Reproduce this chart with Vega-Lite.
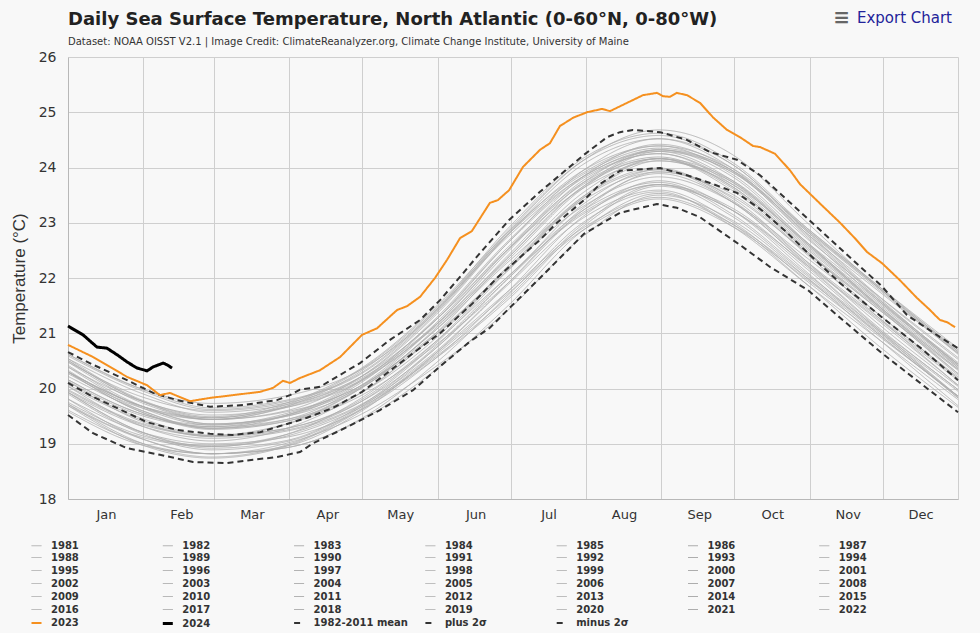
{
"$schema": "https://vega.github.io/schema/vega-lite/v6.json",
"width": 890,
"height": 442,
"autosize": "none",
"padding": {"left": 68, "top": 57, "right": 22, "bottom": 134},
"background": "#f8f8f8",
"config": {
  "view": {"stroke": null},
  "font": "DejaVu Sans",
  "legend": {"orient": "none", "legendX": -38, "legendY": 482, "direction": "horizontal", "columns": 7, "symbolLimit": 100, "symbolType": "stroke", "symbolSize": 100, "labelFont": "DejaVu Sans", "labelFontSize": 10, "labelFontWeight": "bold", "labelColor": "#333333", "labelOffset": 8, "columnPadding": 10.3, "rowPadding": -0.6, "gridAlign": "all", "labelLimit": 200, "symbolOpacity": 1}
},
"title": {"text": "Daily Sea Surface Temperature, North Atlantic (0-60°N, 0-80°W)", "subtitle": "Dataset: NOAA OISST V2.1 | Image Credit: ClimateReanalyzer.org, Climate Change Institute, University of Maine", "anchor": "start", "frame": "group", "font": "DejaVu Sans", "fontSize": 18, "fontWeight": "bold", "color": "#222222", "subtitleFont": "DejaVu Sans", "subtitleFontSize": 10, "subtitleColor": "#333333", "subtitlePadding": 8, "offset": -39},
"datasets": {
"years": [
{"s":"1981","d":0,"t":19.81},{"s":"1981","d":31,"t":19.20},{"s":"1981","d":59,"t":19.00},{"s":"1981","d":90,"t":19.12},{"s":"1981","d":120,"t":19.60},{"s":"1981","d":151,"t":20.54},{"s":"1981","d":181,"t":21.76},{"s":"1981","d":212,"t":23.12},{"s":"1981","d":243,"t":23.76},{"s":"1981","d":273,"t":23.23},{"s":"1981","d":304,"t":22.10},{"s":"1981","d":334,"t":20.96},{"s":"1981","d":366,"t":19.86},
{"s":"1982","d":0,"t":19.69},{"s":"1982","d":31,"t":18.97},{"s":"1982","d":59,"t":18.74},{"s":"1982","d":90,"t":18.96},{"s":"1982","d":120,"t":19.60},{"s":"1982","d":151,"t":20.60},{"s":"1982","d":181,"t":21.72},{"s":"1982","d":212,"t":22.87},{"s":"1982","d":243,"t":23.43},{"s":"1982","d":273,"t":22.94},{"s":"1982","d":304,"t":21.97},{"s":"1982","d":334,"t":20.96},{"s":"1982","d":366,"t":19.83},
{"s":"1983","d":0,"t":19.90},{"s":"1983","d":31,"t":19.17},{"s":"1983","d":59,"t":18.89},{"s":"1983","d":90,"t":19.04},{"s":"1983","d":120,"t":19.65},{"s":"1983","d":151,"t":20.72},{"s":"1983","d":181,"t":21.99},{"s":"1983","d":212,"t":23.19},{"s":"1983","d":243,"t":23.69},{"s":"1983","d":273,"t":23.12},{"s":"1983","d":304,"t":22.04},{"s":"1983","d":334,"t":21.02},{"s":"1983","d":366,"t":19.95},
{"s":"1984","d":0,"t":19.58},{"s":"1984","d":31,"t":18.97},{"s":"1984","d":59,"t":18.82},{"s":"1984","d":90,"t":19.01},{"s":"1984","d":120,"t":19.52},{"s":"1984","d":151,"t":20.39},{"s":"1984","d":181,"t":21.42},{"s":"1984","d":212,"t":22.76},{"s":"1984","d":243,"t":23.50},{"s":"1984","d":273,"t":23.05},{"s":"1984","d":304,"t":22.00},{"s":"1984","d":334,"t":20.87},{"s":"1984","d":366,"t":19.69},
{"s":"1985","d":0,"t":19.69},{"s":"1985","d":31,"t":19.08},{"s":"1985","d":59,"t":18.82},{"s":"1985","d":90,"t":18.93},{"s":"1985","d":120,"t":19.44},{"s":"1985","d":151,"t":20.45},{"s":"1985","d":181,"t":21.69},{"s":"1985","d":212,"t":23.01},{"s":"1985","d":243,"t":23.56},{"s":"1985","d":273,"t":22.94},{"s":"1985","d":304,"t":21.88},{"s":"1985","d":334,"t":20.87},{"s":"1985","d":366,"t":19.80},
{"s":"1986","d":0,"t":19.61},{"s":"1986","d":31,"t":19.00},{"s":"1986","d":59,"t":18.82},{"s":"1986","d":90,"t":18.93},{"s":"1986","d":120,"t":19.42},{"s":"1986","d":151,"t":20.33},{"s":"1986","d":181,"t":21.50},{"s":"1986","d":212,"t":22.87},{"s":"1986","d":243,"t":23.53},{"s":"1986","d":273,"t":22.98},{"s":"1986","d":304,"t":21.88},{"s":"1986","d":334,"t":20.75},{"s":"1986","d":366,"t":19.66},
{"s":"1987","d":0,"t":19.93},{"s":"1987","d":31,"t":19.20},{"s":"1987","d":59,"t":18.95},{"s":"1987","d":90,"t":19.17},{"s":"1987","d":120,"t":19.81},{"s":"1987","d":151,"t":20.84},{"s":"1987","d":181,"t":22.03},{"s":"1987","d":212,"t":23.16},{"s":"1987","d":243,"t":23.69},{"s":"1987","d":273,"t":23.23},{"s":"1987","d":304,"t":22.23},{"s":"1987","d":334,"t":21.20},{"s":"1987","d":366,"t":20.06},
{"s":"1988","d":0,"t":19.93},{"s":"1988","d":31,"t":19.20},{"s":"1988","d":59,"t":18.92},{"s":"1988","d":90,"t":19.06},{"s":"1988","d":120,"t":19.68},{"s":"1988","d":151,"t":20.75},{"s":"1988","d":181,"t":22.03},{"s":"1988","d":212,"t":23.23},{"s":"1988","d":243,"t":23.73},{"s":"1988","d":273,"t":23.16},{"s":"1988","d":304,"t":22.07},{"s":"1988","d":334,"t":21.05},{"s":"1988","d":366,"t":19.98},
{"s":"1989","d":0,"t":19.72},{"s":"1989","d":31,"t":19.11},{"s":"1989","d":59,"t":18.95},{"s":"1989","d":90,"t":19.14},{"s":"1989","d":120,"t":19.65},{"s":"1989","d":151,"t":20.54},{"s":"1989","d":181,"t":21.61},{"s":"1989","d":212,"t":22.94},{"s":"1989","d":243,"t":23.66},{"s":"1989","d":273,"t":23.23},{"s":"1989","d":304,"t":22.16},{"s":"1989","d":334,"t":21.02},{"s":"1989","d":366,"t":19.83},
{"s":"1990","d":0,"t":20.04},{"s":"1990","d":31,"t":19.42},{"s":"1990","d":59,"t":19.13},{"s":"1990","d":90,"t":19.25},{"s":"1990","d":120,"t":19.75},{"s":"1990","d":151,"t":20.81},{"s":"1990","d":181,"t":22.14},{"s":"1990","d":212,"t":23.45},{"s":"1990","d":243,"t":23.96},{"s":"1990","d":273,"t":23.38},{"s":"1990","d":304,"t":22.26},{"s":"1990","d":334,"t":21.23},{"s":"1990","d":366,"t":20.15},
{"s":"1991","d":0,"t":19.93},{"s":"1991","d":31,"t":19.31},{"s":"1991","d":59,"t":19.10},{"s":"1991","d":90,"t":19.23},{"s":"1991","d":120,"t":19.70},{"s":"1991","d":151,"t":20.66},{"s":"1991","d":181,"t":21.91},{"s":"1991","d":212,"t":23.27},{"s":"1991","d":243,"t":23.89},{"s":"1991","d":273,"t":23.38},{"s":"1991","d":304,"t":22.23},{"s":"1991","d":334,"t":21.08},{"s":"1991","d":366,"t":19.98},
{"s":"1992","d":0,"t":19.72},{"s":"1992","d":31,"t":19.00},{"s":"1992","d":59,"t":18.76},{"s":"1992","d":90,"t":18.98},{"s":"1992","d":120,"t":19.62},{"s":"1992","d":151,"t":20.63},{"s":"1992","d":181,"t":21.76},{"s":"1992","d":212,"t":22.91},{"s":"1992","d":243,"t":23.46},{"s":"1992","d":273,"t":22.98},{"s":"1992","d":304,"t":22.00},{"s":"1992","d":334,"t":20.99},{"s":"1992","d":366,"t":19.86},
{"s":"1993","d":0,"t":19.81},{"s":"1993","d":31,"t":19.08},{"s":"1993","d":59,"t":18.82},{"s":"1993","d":90,"t":18.96},{"s":"1993","d":120,"t":19.57},{"s":"1993","d":151,"t":20.63},{"s":"1993","d":181,"t":21.88},{"s":"1993","d":212,"t":23.09},{"s":"1993","d":243,"t":23.59},{"s":"1993","d":273,"t":23.02},{"s":"1993","d":304,"t":21.94},{"s":"1993","d":334,"t":20.93},{"s":"1993","d":366,"t":19.86},
{"s":"1994","d":0,"t":19.75},{"s":"1994","d":31,"t":19.14},{"s":"1994","d":59,"t":18.97},{"s":"1994","d":90,"t":19.17},{"s":"1994","d":120,"t":19.68},{"s":"1994","d":151,"t":20.57},{"s":"1994","d":181,"t":21.65},{"s":"1994","d":212,"t":22.98},{"s":"1994","d":243,"t":23.69},{"s":"1994","d":273,"t":23.27},{"s":"1994","d":304,"t":22.20},{"s":"1994","d":334,"t":21.05},{"s":"1994","d":366,"t":19.86},
{"s":"1995","d":0,"t":20.22},{"s":"1995","d":31,"t":19.59},{"s":"1995","d":59,"t":19.28},{"s":"1995","d":90,"t":19.41},{"s":"1995","d":120,"t":19.91},{"s":"1995","d":151,"t":20.99},{"s":"1995","d":181,"t":22.37},{"s":"1995","d":212,"t":23.66},{"s":"1995","d":243,"t":24.16},{"s":"1995","d":273,"t":23.59},{"s":"1995","d":304,"t":22.45},{"s":"1995","d":334,"t":21.41},{"s":"1995","d":366,"t":20.33},
{"s":"1996","d":0,"t":19.98},{"s":"1996","d":31,"t":19.36},{"s":"1996","d":59,"t":19.15},{"s":"1996","d":90,"t":19.28},{"s":"1996","d":120,"t":19.75},{"s":"1996","d":151,"t":20.72},{"s":"1996","d":181,"t":21.99},{"s":"1996","d":212,"t":23.34},{"s":"1996","d":243,"t":23.96},{"s":"1996","d":273,"t":23.45},{"s":"1996","d":304,"t":22.29},{"s":"1996","d":334,"t":21.14},{"s":"1996","d":366,"t":20.04},
{"s":"1997","d":0,"t":20.04},{"s":"1997","d":31,"t":19.31},{"s":"1997","d":59,"t":19.05},{"s":"1997","d":90,"t":19.28},{"s":"1997","d":120,"t":19.91},{"s":"1997","d":151,"t":20.96},{"s":"1997","d":181,"t":22.18},{"s":"1997","d":212,"t":23.30},{"s":"1997","d":243,"t":23.83},{"s":"1997","d":273,"t":23.38},{"s":"1997","d":304,"t":22.36},{"s":"1997","d":334,"t":21.32},{"s":"1997","d":366,"t":20.18},
{"s":"1998","d":0,"t":20.39},{"s":"1998","d":31,"t":19.64},{"s":"1998","d":59,"t":19.34},{"s":"1998","d":90,"t":19.50},{"s":"1998","d":120,"t":20.09},{"s":"1998","d":151,"t":21.23},{"s":"1998","d":181,"t":22.64},{"s":"1998","d":212,"t":23.81},{"s":"1998","d":243,"t":24.25},{"s":"1998","d":273,"t":23.74},{"s":"1998","d":304,"t":22.58},{"s":"1998","d":334,"t":21.53},{"s":"1998","d":366,"t":20.44},
{"s":"1999","d":0,"t":20.13},{"s":"1999","d":31,"t":19.50},{"s":"1999","d":59,"t":19.31},{"s":"1999","d":90,"t":19.52},{"s":"1999","d":120,"t":20.01},{"s":"1999","d":151,"t":20.96},{"s":"1999","d":181,"t":22.14},{"s":"1999","d":212,"t":23.45},{"s":"1999","d":243,"t":24.12},{"s":"1999","d":273,"t":23.74},{"s":"1999","d":304,"t":22.61},{"s":"1999","d":334,"t":21.44},{"s":"1999","d":366,"t":20.24},
{"s":"2000","d":0,"t":20.07},{"s":"2000","d":31,"t":19.45},{"s":"2000","d":59,"t":19.15},{"s":"2000","d":90,"t":19.28},{"s":"2000","d":120,"t":19.78},{"s":"2000","d":151,"t":20.84},{"s":"2000","d":181,"t":22.18},{"s":"2000","d":212,"t":23.48},{"s":"2000","d":243,"t":23.99},{"s":"2000","d":273,"t":23.41},{"s":"2000","d":304,"t":22.29},{"s":"2000","d":334,"t":21.26},{"s":"2000","d":366,"t":20.18},
{"s":"2001","d":0,"t":20.16},{"s":"2001","d":31,"t":19.53},{"s":"2001","d":59,"t":19.31},{"s":"2001","d":90,"t":19.44},{"s":"2001","d":120,"t":19.91},{"s":"2001","d":151,"t":20.90},{"s":"2001","d":181,"t":22.22},{"s":"2001","d":212,"t":23.55},{"s":"2001","d":243,"t":24.16},{"s":"2001","d":273,"t":23.66},{"s":"2001","d":304,"t":22.48},{"s":"2001","d":334,"t":21.32},{"s":"2001","d":366,"t":20.21},
{"s":"2002","d":0,"t":20.13},{"s":"2002","d":31,"t":19.39},{"s":"2002","d":59,"t":19.13},{"s":"2002","d":90,"t":19.36},{"s":"2002","d":120,"t":19.99},{"s":"2002","d":151,"t":21.05},{"s":"2002","d":181,"t":22.29},{"s":"2002","d":212,"t":23.41},{"s":"2002","d":243,"t":23.92},{"s":"2002","d":273,"t":23.48},{"s":"2002","d":304,"t":22.45},{"s":"2002","d":334,"t":21.41},{"s":"2002","d":366,"t":20.27},
{"s":"2003","d":0,"t":20.42},{"s":"2003","d":31,"t":19.67},{"s":"2003","d":59,"t":19.36},{"s":"2003","d":90,"t":19.52},{"s":"2003","d":120,"t":20.12},{"s":"2003","d":151,"t":21.26},{"s":"2003","d":181,"t":22.67},{"s":"2003","d":212,"t":23.84},{"s":"2003","d":243,"t":24.29},{"s":"2003","d":273,"t":23.77},{"s":"2003","d":304,"t":22.61},{"s":"2003","d":334,"t":21.56},{"s":"2003","d":366,"t":20.47},
{"s":"2004","d":0,"t":20.27},{"s":"2004","d":31,"t":19.64},{"s":"2004","d":59,"t":19.44},{"s":"2004","d":90,"t":19.66},{"s":"2004","d":120,"t":20.14},{"s":"2004","d":151,"t":21.11},{"s":"2004","d":181,"t":22.33},{"s":"2004","d":212,"t":23.63},{"s":"2004","d":243,"t":24.29},{"s":"2004","d":273,"t":23.92},{"s":"2004","d":304,"t":22.77},{"s":"2004","d":334,"t":21.59},{"s":"2004","d":366,"t":20.38},
{"s":"2005","d":0,"t":20.54},{"s":"2005","d":31,"t":19.90},{"s":"2005","d":59,"t":19.57},{"s":"2005","d":90,"t":19.71},{"s":"2005","d":120,"t":20.20},{"s":"2005","d":151,"t":21.32},{"s":"2005","d":181,"t":22.79},{"s":"2005","d":212,"t":24.06},{"s":"2005","d":243,"t":24.52},{"s":"2005","d":273,"t":23.99},{"s":"2005","d":304,"t":22.80},{"s":"2005","d":334,"t":21.74},{"s":"2005","d":366,"t":20.64},
{"s":"2006","d":0,"t":20.39},{"s":"2006","d":31,"t":19.76},{"s":"2006","d":59,"t":19.52},{"s":"2006","d":90,"t":19.66},{"s":"2006","d":120,"t":20.12},{"s":"2006","d":151,"t":21.14},{"s":"2006","d":181,"t":22.52},{"s":"2006","d":212,"t":23.84},{"s":"2006","d":243,"t":24.42},{"s":"2006","d":273,"t":23.95},{"s":"2006","d":304,"t":22.74},{"s":"2006","d":334,"t":21.56},{"s":"2006","d":366,"t":20.44},
{"s":"2007","d":0,"t":20.30},{"s":"2007","d":31,"t":19.56},{"s":"2007","d":59,"t":19.28},{"s":"2007","d":90,"t":19.52},{"s":"2007","d":120,"t":20.14},{"s":"2007","d":151,"t":21.23},{"s":"2007","d":181,"t":22.52},{"s":"2007","d":212,"t":23.63},{"s":"2007","d":243,"t":24.12},{"s":"2007","d":273,"t":23.70},{"s":"2007","d":304,"t":22.64},{"s":"2007","d":334,"t":21.59},{"s":"2007","d":366,"t":20.44},
{"s":"2008","d":0,"t":20.30},{"s":"2008","d":31,"t":19.56},{"s":"2008","d":59,"t":19.26},{"s":"2008","d":90,"t":19.41},{"s":"2008","d":120,"t":20.01},{"s":"2008","d":151,"t":21.14},{"s":"2008","d":181,"t":22.52},{"s":"2008","d":212,"t":23.70},{"s":"2008","d":243,"t":24.16},{"s":"2008","d":273,"t":23.63},{"s":"2008","d":304,"t":22.48},{"s":"2008","d":334,"t":21.44},{"s":"2008","d":366,"t":20.35},
{"s":"2009","d":0,"t":19.96},{"s":"2009","d":31,"t":19.34},{"s":"2009","d":59,"t":19.15},{"s":"2009","d":90,"t":19.36},{"s":"2009","d":120,"t":19.86},{"s":"2009","d":151,"t":20.78},{"s":"2009","d":181,"t":21.91},{"s":"2009","d":212,"t":23.23},{"s":"2009","d":243,"t":23.92},{"s":"2009","d":273,"t":23.52},{"s":"2009","d":304,"t":22.42},{"s":"2009","d":334,"t":21.26},{"s":"2009","d":366,"t":20.06},
{"s":"2010","d":0,"t":20.59},{"s":"2010","d":31,"t":19.95},{"s":"2010","d":59,"t":19.62},{"s":"2010","d":90,"t":19.77},{"s":"2010","d":120,"t":20.25},{"s":"2010","d":151,"t":21.38},{"s":"2010","d":181,"t":22.86},{"s":"2010","d":212,"t":24.13},{"s":"2010","d":243,"t":24.58},{"s":"2010","d":273,"t":24.06},{"s":"2010","d":304,"t":22.87},{"s":"2010","d":334,"t":21.80},{"s":"2010","d":366,"t":20.70},
{"s":"2011","d":0,"t":20.30},{"s":"2011","d":31,"t":19.67},{"s":"2011","d":59,"t":19.44},{"s":"2011","d":90,"t":19.58},{"s":"2011","d":120,"t":20.04},{"s":"2011","d":151,"t":21.05},{"s":"2011","d":181,"t":22.41},{"s":"2011","d":212,"t":23.73},{"s":"2011","d":243,"t":24.32},{"s":"2011","d":273,"t":23.84},{"s":"2011","d":304,"t":22.64},{"s":"2011","d":334,"t":21.47},{"s":"2011","d":366,"t":20.35},
{"s":"2012","d":0,"t":20.48},{"s":"2012","d":31,"t":19.73},{"s":"2012","d":59,"t":19.44},{"s":"2012","d":90,"t":19.68},{"s":"2012","d":120,"t":20.30},{"s":"2012","d":151,"t":21.41},{"s":"2012","d":181,"t":22.75},{"s":"2012","d":212,"t":23.84},{"s":"2012","d":243,"t":24.32},{"s":"2012","d":273,"t":23.92},{"s":"2012","d":304,"t":22.84},{"s":"2012","d":334,"t":21.77},{"s":"2012","d":366,"t":20.62},
{"s":"2013","d":0,"t":20.33},{"s":"2013","d":31,"t":19.59},{"s":"2013","d":59,"t":19.28},{"s":"2013","d":90,"t":19.44},{"s":"2013","d":120,"t":20.04},{"s":"2013","d":151,"t":21.17},{"s":"2013","d":181,"t":22.56},{"s":"2013","d":212,"t":23.73},{"s":"2013","d":243,"t":24.19},{"s":"2013","d":273,"t":23.66},{"s":"2013","d":304,"t":22.52},{"s":"2013","d":334,"t":21.47},{"s":"2013","d":366,"t":20.38},
{"s":"2014","d":0,"t":20.30},{"s":"2014","d":31,"t":19.67},{"s":"2014","d":59,"t":19.47},{"s":"2014","d":90,"t":19.68},{"s":"2014","d":120,"t":20.17},{"s":"2014","d":151,"t":21.14},{"s":"2014","d":181,"t":22.37},{"s":"2014","d":212,"t":23.66},{"s":"2014","d":243,"t":24.32},{"s":"2014","d":273,"t":23.95},{"s":"2014","d":304,"t":22.80},{"s":"2014","d":334,"t":21.62},{"s":"2014","d":366,"t":20.41},
{"s":"2015","d":0,"t":20.30},{"s":"2015","d":31,"t":19.67},{"s":"2015","d":59,"t":19.36},{"s":"2015","d":90,"t":19.50},{"s":"2015","d":120,"t":19.99},{"s":"2015","d":151,"t":21.08},{"s":"2015","d":181,"t":22.48},{"s":"2015","d":212,"t":23.77},{"s":"2015","d":243,"t":24.25},{"s":"2015","d":273,"t":23.70},{"s":"2015","d":304,"t":22.55},{"s":"2015","d":334,"t":21.50},{"s":"2015","d":366,"t":20.41},
{"s":"2016","d":0,"t":20.48},{"s":"2016","d":31,"t":19.84},{"s":"2016","d":59,"t":19.60},{"s":"2016","d":90,"t":19.74},{"s":"2016","d":120,"t":20.20},{"s":"2016","d":151,"t":21.23},{"s":"2016","d":181,"t":22.64},{"s":"2016","d":212,"t":23.95},{"s":"2016","d":243,"t":24.52},{"s":"2016","d":273,"t":24.06},{"s":"2016","d":304,"t":22.84},{"s":"2016","d":334,"t":21.65},{"s":"2016","d":366,"t":20.53},
{"s":"2017","d":0,"t":20.51},{"s":"2017","d":31,"t":19.76},{"s":"2017","d":59,"t":19.47},{"s":"2017","d":90,"t":19.71},{"s":"2017","d":120,"t":20.33},{"s":"2017","d":151,"t":21.44},{"s":"2017","d":181,"t":22.79},{"s":"2017","d":212,"t":23.88},{"s":"2017","d":243,"t":24.35},{"s":"2017","d":273,"t":23.95},{"s":"2017","d":304,"t":22.87},{"s":"2017","d":334,"t":21.80},{"s":"2017","d":366,"t":20.64},
{"s":"2018","d":0,"t":20.16},{"s":"2018","d":31,"t":19.53},{"s":"2018","d":59,"t":19.34},{"s":"2018","d":90,"t":19.55},{"s":"2018","d":120,"t":20.04},{"s":"2018","d":151,"t":20.99},{"s":"2018","d":181,"t":22.18},{"s":"2018","d":212,"t":23.48},{"s":"2018","d":243,"t":24.16},{"s":"2018","d":273,"t":23.77},{"s":"2018","d":304,"t":22.64},{"s":"2018","d":334,"t":21.47},{"s":"2018","d":366,"t":20.27},
{"s":"2019","d":0,"t":20.51},{"s":"2019","d":31,"t":19.76},{"s":"2019","d":59,"t":19.44},{"s":"2019","d":90,"t":19.60},{"s":"2019","d":120,"t":20.20},{"s":"2019","d":151,"t":21.35},{"s":"2019","d":181,"t":22.79},{"s":"2019","d":212,"t":23.95},{"s":"2019","d":243,"t":24.39},{"s":"2019","d":273,"t":23.88},{"s":"2019","d":304,"t":22.71},{"s":"2019","d":334,"t":21.65},{"s":"2019","d":366,"t":20.56},
{"s":"2020","d":0,"t":20.62},{"s":"2020","d":31,"t":19.98},{"s":"2020","d":59,"t":19.65},{"s":"2020","d":90,"t":19.79},{"s":"2020","d":120,"t":20.27},{"s":"2020","d":151,"t":21.41},{"s":"2020","d":181,"t":22.90},{"s":"2020","d":212,"t":24.17},{"s":"2020","d":243,"t":24.62},{"s":"2020","d":273,"t":24.10},{"s":"2020","d":304,"t":22.90},{"s":"2020","d":334,"t":21.83},{"s":"2020","d":366,"t":20.73},
{"s":"2021","d":0,"t":20.54},{"s":"2021","d":31,"t":19.78},{"s":"2021","d":59,"t":19.49},{"s":"2021","d":90,"t":19.74},{"s":"2021","d":120,"t":20.35},{"s":"2021","d":151,"t":21.47},{"s":"2021","d":181,"t":22.83},{"s":"2021","d":212,"t":23.91},{"s":"2021","d":243,"t":24.39},{"s":"2021","d":273,"t":23.99},{"s":"2021","d":304,"t":22.90},{"s":"2021","d":334,"t":21.83},{"s":"2021","d":366,"t":20.67},
{"s":"2022","d":0,"t":20.62},{"s":"2022","d":31,"t":19.98},{"s":"2022","d":59,"t":19.73},{"s":"2022","d":90,"t":19.87},{"s":"2022","d":120,"t":20.33},{"s":"2022","d":151,"t":21.38},{"s":"2022","d":181,"t":22.83},{"s":"2022","d":212,"t":24.13},{"s":"2022","d":243,"t":24.68},{"s":"2022","d":273,"t":24.24},{"s":"2022","d":304,"t":23.00},{"s":"2022","d":334,"t":21.80},{"s":"2022","d":366,"t":20.67}
],
"stats": [
{"s":"1982-2011 mean","d":0,"t":20.10},{"s":"1982-2011 mean","d":10.3,"t":19.85},{"s":"1982-2011 mean","d":24.3,"t":19.56},{"s":"1982-2011 mean","d":32.5,"t":19.39},{"s":"1982-2011 mean","d":44.8,"t":19.25},{"s":"1982-2011 mean","d":58.4,"t":19.18},{"s":"1982-2011 mean","d":67.9,"t":19.16},{"s":"1982-2011 mean","d":79.0,"t":19.21},{"s":"1982-2011 mean","d":87.2,"t":19.32},{"s":"1982-2011 mean","d":98.3,"t":19.47},{"s":"1982-2011 mean","d":109.0,"t":19.65},{"s":"1982-2011 mean","d":120.9,"t":19.94},{"s":"1982-2011 mean","d":131.2,"t":20.28},{"s":"1982-2011 mean","d":141.9,"t":20.64},{"s":"1982-2011 mean","d":153.0,"t":21.0},{"s":"1982-2011 mean","d":166.6,"t":21.55},{"s":"1982-2011 mean","d":176.4,"t":22.0},{"s":"1982-2011 mean","d":181.4,"t":22.2},{"s":"1982-2011 mean","d":194.1,"t":22.69},{"s":"1982-2011 mean","d":201.1,"t":23.0},{"s":"1982-2011 mean","d":212.2,"t":23.41},{"s":"1982-2011 mean","d":218.8,"t":23.7},{"s":"1982-2011 mean","d":227.0,"t":23.94},{"s":"1982-2011 mean","d":236.5,"t":23.97},{"s":"1982-2011 mean","d":243.5,"t":23.99},{"s":"1982-2011 mean","d":254.5,"t":23.86},{"s":"1982-2011 mean","d":264.0,"t":23.72},{"s":"1982-2011 mean","d":275.1,"t":23.54},{"s":"1982-2011 mean","d":284.6,"t":23.25},{"s":"1982-2011 mean","d":295.0,"t":22.85},{"s":"1982-2011 mean","d":304.3,"t":22.45},{"s":"1982-2011 mean","d":317.5,"t":21.91},{"s":"1982-2011 mean","d":334.7,"t":21.29},{"s":"1982-2011 mean","d":351.6,"t":20.70},{"s":"1982-2011 mean","d":366,"t":20.15},
{"s":"plus 2σ","d":0,"t":20.66},{"s":"plus 2σ","d":10.3,"t":20.43},{"s":"plus 2σ","d":24.3,"t":20.15},{"s":"plus 2σ","d":35.0,"t":19.92},{"s":"plus 2σ","d":44.8,"t":19.79},{"s":"plus 2σ","d":58.4,"t":19.67},{"s":"plus 2σ","d":72.0,"t":19.70},{"s":"plus 2σ","d":85.9,"t":19.79},{"s":"plus 2σ","d":91.3,"t":19.88},{"s":"plus 2σ","d":95.4,"t":19.98},{"s":"plus 2σ","d":103.6,"t":20.03},{"s":"plus 2σ","d":120.1,"t":20.46},{"s":"plus 2σ","d":132.4,"t":20.88},{"s":"plus 2σ","d":144.8,"t":21.24},{"s":"plus 2σ","d":153.0,"t":21.6},{"s":"plus 2σ","d":161.2,"t":22.02},{"s":"plus 2σ","d":169.4,"t":22.45},{"s":"plus 2σ","d":181.4,"t":23.05},{"s":"plus 2σ","d":194.1,"t":23.56},{"s":"plus 2σ","d":212.2,"t":24.23},{"s":"plus 2σ","d":221.7,"t":24.55},{"s":"plus 2σ","d":227.0,"t":24.64},{"s":"plus 2σ","d":232.3,"t":24.68},{"s":"plus 2σ","d":243.5,"t":24.64},{"s":"plus 2σ","d":254.5,"t":24.50},{"s":"plus 2σ","d":264.0,"t":24.28},{"s":"plus 2σ","d":275.1,"t":24.14},{"s":"plus 2σ","d":284.6,"t":23.86},{"s":"plus 2σ","d":304.3,"t":23.07},{"s":"plus 2σ","d":320.4,"t":22.42},{"s":"plus 2σ","d":334.7,"t":21.85},{"s":"plus 2σ","d":345.0,"t":21.33},{"s":"plus 2σ","d":358.6,"t":20.93},{"s":"plus 2σ","d":366,"t":20.73},
{"s":"minus 2σ","d":0,"t":19.52},{"s":"minus 2σ","d":10.3,"t":19.19},{"s":"minus 2σ","d":24.3,"t":18.92},{"s":"minus 2σ","d":37.8,"t":18.80},{"s":"minus 2σ","d":51.4,"t":18.67},{"s":"minus 2σ","d":65.4,"t":18.65},{"s":"minus 2σ","d":76.1,"t":18.71},{"s":"minus 2σ","d":85.9,"t":18.76},{"s":"minus 2σ","d":95.4,"t":18.85},{"s":"minus 2σ","d":100.8,"t":19.01},{"s":"minus 2σ","d":114.7,"t":19.30},{"s":"minus 2σ","d":128.3,"t":19.61},{"s":"minus 2σ","d":141.9,"t":19.97},{"s":"minus 2σ","d":153.0,"t":20.4},{"s":"minus 2σ","d":165.3,"t":20.85},{"s":"minus 2σ","d":173.5,"t":21.1},{"s":"minus 2σ","d":181.4,"t":21.45},{"s":"minus 2σ","d":194.1,"t":22.0},{"s":"minus 2σ","d":212.2,"t":22.8},{"s":"minus 2σ","d":227.0,"t":23.18},{"s":"minus 2σ","d":242.2,"t":23.34},{"s":"minus 2σ","d":250.4,"t":23.27},{"s":"minus 2σ","d":259.9,"t":23.1},{"s":"minus 2σ","d":276.3,"t":22.6},{"s":"minus 2σ","d":288.7,"t":22.2},{"s":"minus 2σ","d":304.3,"t":21.78},{"s":"minus 2σ","d":317.5,"t":21.28},{"s":"minus 2σ","d":334.7,"t":20.64},{"s":"minus 2σ","d":351.6,"t":20.06},{"s":"minus 2σ","d":366,"t":19.57}
],
"y2023": [
{"s":"2023","d":0,"t":20.79},{"s":"2023","d":10.3,"t":20.57},{"s":"2023","d":24.3,"t":20.21},{"s":"2023","d":32.5,"t":20.06},{"s":"2023","d":37.8,"t":19.88},{"s":"2023","d":41.9,"t":19.92},{"s":"2023","d":50.2,"t":19.77},{"s":"2023","d":58.4,"t":19.83},{"s":"2023","d":67.9,"t":19.88},{"s":"2023","d":79.0,"t":19.94},{"s":"2023","d":84.3,"t":20.01},{"s":"2023","d":88.4,"t":20.14},{"s":"2023","d":91.3,"t":20.10},{"s":"2023","d":95.4,"t":20.19},{"s":"2023","d":103.6,"t":20.33},{"s":"2023","d":111.9,"t":20.57},{"s":"2023","d":120.9,"t":20.97},{"s":"2023","d":127.1,"t":21.09},{"s":"2023","d":135.3,"t":21.42},{"s":"2023","d":139.4,"t":21.49},{"s":"2023","d":144.8,"t":21.66},{"s":"2023","d":150.9,"t":22.0},{"s":"2023","d":155.9,"t":22.33},{"s":"2023","d":161.2,"t":22.72},{"s":"2023","d":166.1,"t":22.85},{"s":"2023","d":173.5,"t":23.36},{"s":"2023","d":176.8,"t":23.41},{"s":"2023","d":181.4,"t":23.59},{"s":"2023","d":187.1,"t":24.01},{"s":"2023","d":194.1,"t":24.32},{"s":"2023","d":198.2,"t":24.44},{"s":"2023","d":202.3,"t":24.75},{"s":"2023","d":207.7,"t":24.90},{"s":"2023","d":213.4,"t":25.0},{"s":"2023","d":219.6,"t":25.06},{"s":"2023","d":222.9,"t":25.02},{"s":"2023","d":229.9,"t":25.17},{"s":"2023","d":236.5,"t":25.31},{"s":"2023","d":242.2,"t":25.35},{"s":"2023","d":244.7,"t":25.29},{"s":"2023","d":247.6,"t":25.28},{"s":"2023","d":250.4,"t":25.35},{"s":"2023","d":254.5,"t":25.31},{"s":"2023","d":259.9,"t":25.17},{"s":"2023","d":265.2,"t":24.91},{"s":"2023","d":271.0,"t":24.68},{"s":"2023","d":276.3,"t":24.55},{"s":"2023","d":281.7,"t":24.39},{"s":"2023","d":284.6,"t":24.37},{"s":"2023","d":290.7,"t":24.25},{"s":"2023","d":296.9,"t":23.95},{"s":"2023","d":301.0,"t":23.7},{"s":"2023","d":309.2,"t":23.35},{"s":"2023","d":317.5,"t":23.0},{"s":"2023","d":323.6,"t":22.72},{"s":"2023","d":328.6,"t":22.47},{"s":"2023","d":334.7,"t":22.27},{"s":"2023","d":342.1,"t":21.96},{"s":"2023","d":349.1,"t":21.64},{"s":"2023","d":354.5,"t":21.42},{"s":"2023","d":356.5,"t":21.33},{"s":"2023","d":358.6,"t":21.24},{"s":"2023","d":361.5,"t":21.2},{"s":"2023","d":364.8,"t":21.11}
],
"y2024": [
{"s":"2024","d":0,"t":21.13},{"s":"2024","d":6.2,"t":20.97},{"s":"2024","d":11.9,"t":20.75},{"s":"2024","d":16.0,"t":20.73},{"s":"2024","d":20.2,"t":20.61},{"s":"2024","d":24.3,"t":20.48},{"s":"2024","d":28.4,"t":20.37},{"s":"2024","d":32.5,"t":20.32},{"s":"2024","d":35.0,"t":20.39},{"s":"2024","d":39.1,"t":20.46},{"s":"2024","d":40.7,"t":20.43},{"s":"2024","d":42.8,"t":20.37}
]
},
"layer": [
{
  "encoding": {
    "x": {"field": "d", "type": "quantitative", "scale": {"domain": [0, 366], "nice": false, "zero": false},
      "axis": {"title": null, "values": [0,31,60,91,121,152,182,213,244,274,305,335,366], "grid": true, "gridColor": "#cfcfcf", "ticks": false, "domainColor": "#b8b8b8", "labelExpr": "datum.value >= 366 ? '' : ['Jan','Feb','Mar','Apr','May','Jun','Jul','Aug','Sep','Oct','Nov','Dec'][indexof([0,31,60,91,121,152,182,213,244,274,305,335], datum.value)]", "labelOffset": 38, "labelAlign": "center", "labelFlush": false, "labelOverlap": false, "labelFont": "DejaVu Sans", "labelFontSize": 13, "labelColor": "#333333", "labelPadding": 9}},
    "y": {"field": "t", "type": "quantitative", "scale": {"domain": [18, 26], "nice": false, "zero": false},
      "axis": {"title": "Temperature (°C)", "values": [18,19,20,21,22,23,24,25,26], "format": "d", "grid": true, "gridColor": "#cfcfcf", "ticks": false, "domainColor": "#b8b8b8", "labelFont": "DejaVu Sans", "labelFontSize": 14, "labelColor": "#333333", "labelPadding": 12, "titleFont": "Liberation Sans", "titleFontSize": 17, "titleFontWeight": "normal", "titleColor": "#333333", "titlePadding": 10}},
    "color": {"field": "s", "type": "nominal", "title": null,
      "scale": {"domain": ["1981","1982","1983","1984","1985","1986","1987","1988","1989","1990","1991","1992","1993","1994","1995","1996","1997","1998","1999","2000","2001","2002","2003","2004","2005","2006","2007","2008","2009","2010","2011","2012","2013","2014","2015","2016","2017","2018","2019","2020","2021","2022","2023","2024","1982-2011 mean","plus 2σ","minus 2σ"],
        "range": ["#adadad","#adadad","#adadad","#adadad","#adadad","#adadad","#adadad","#adadad","#adadad","#adadad","#adadad","#adadad","#adadad","#adadad","#adadad","#adadad","#adadad","#adadad","#adadad","#adadad","#adadad","#adadad","#adadad","#adadad","#adadad","#adadad","#adadad","#adadad","#adadad","#adadad","#adadad","#adadad","#adadad","#adadad","#adadad","#adadad","#adadad","#adadad","#adadad","#adadad","#adadad","#adadad","#f5901f","#000000","#333333","#333333","#333333"]}},
    "strokeDash": {"field": "s", "type": "nominal", "title": null,
      "scale": {"domain": ["1981","1982","1983","1984","1985","1986","1987","1988","1989","1990","1991","1992","1993","1994","1995","1996","1997","1998","1999","2000","2001","2002","2003","2004","2005","2006","2007","2008","2009","2010","2011","2012","2013","2014","2015","2016","2017","2018","2019","2020","2021","2022","2023","2024","1982-2011 mean","plus 2σ","minus 2σ"],
        "range": [[1,0],[1,0],[1,0],[1,0],[1,0],[1,0],[1,0],[1,0],[1,0],[1,0],[1,0],[1,0],[1,0],[1,0],[1,0],[1,0],[1,0],[1,0],[1,0],[1,0],[1,0],[1,0],[1,0],[1,0],[1,0],[1,0],[1,0],[1,0],[1,0],[1,0],[1,0],[1,0],[1,0],[1,0],[1,0],[1,0],[1,0],[1,0],[1,0],[1,0],[1,0],[1,0],[1,0],[1,0],[6,4],[6,4],[6,4]]}},
    "strokeWidth": {"field": "s", "type": "nominal", "title": null,
      "scale": {"type": "ordinal", "domain": ["1981","1982","1983","1984","1985","1986","1987","1988","1989","1990","1991","1992","1993","1994","1995","1996","1997","1998","1999","2000","2001","2002","2003","2004","2005","2006","2007","2008","2009","2010","2011","2012","2013","2014","2015","2016","2017","2018","2019","2020","2021","2022","2023","2024","1982-2011 mean","plus 2σ","minus 2σ"],
        "range": [1,1,1,1,1,1,1,1,1,1,1,1,1,1,1,1,1,1,1,1,1,1,1,1,1,1,1,1,1,1,1,1,1,1,1,1,1,1,1,1,1,1,2,3,2,2,2]}}
  },
  "layer": [
    {"data": {"name": "years"}, "mark": {"type": "line", "interpolate": "monotone", "opacity": 0.85}},
    {"data": {"name": "stats"}, "mark": {"type": "line", "interpolate": "linear", "strokeCap": "butt"}},
    {"data": {"name": "y2023"}, "mark": {"type": "line", "interpolate": "linear"}},
    {"data": {"name": "y2024"}, "mark": {"type": "line", "interpolate": "linear"}}
  ]
},
{"data": {"values": [{"label": "Export Chart"}]}, "mark": {"type": "text", "align": "right", "baseline": "middle", "dx": -6, "dy": -39, "font": "DejaVu Sans", "fontSize": 15, "color": "#23239a", "clip": false},
  "encoding": {"x": {"datum": 366}, "y": {"datum": 26}, "text": {"field": "label"}}},
{"data": {"values": [{"label": "≡"}]}, "mark": {"type": "text", "align": "right", "baseline": "middle", "dx": -108, "dy": -39, "font": "DejaVu Sans", "fontSize": 20, "fontWeight": "bold", "color": "#666666", "clip": false},
  "encoding": {"x": {"datum": 366}, "y": {"datum": 26}, "text": {"field": "label"}}}
]
}
